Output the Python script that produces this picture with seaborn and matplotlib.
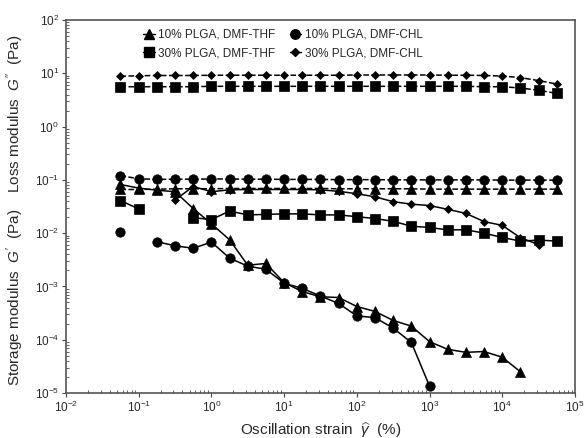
import numpy as np
import pandas as pd
import matplotlib
matplotlib.use("Agg")
import matplotlib.pyplot as plt
from matplotlib.lines import Line2D
from matplotlib.ticker import LogLocator, NullFormatter, FixedLocator
import seaborn as sns

# Oscillation strain sweep (%)
strain = [0.056, 0.1, 0.178, 0.316, 0.562, 1.0, 1.78, 3.16, 5.62, 10, 17.8, 31.6,
          56.2, 100, 178, 316, 562, 1000, 1780, 3160, 5620, 10000, 17800, 31600, 56200]
nan = np.nan

# Loss modulus G'' (Pa)
loss_10_thf = [0.066, 0.066, 0.067, 0.068, 0.068, 0.068, 0.069, 0.069, 0.069, 0.069, 0.069, 0.069,
               0.068, 0.068, 0.068, 0.068, 0.068, 0.067, 0.067, 0.067, 0.067, 0.067, 0.067, 0.067, 0.067]
loss_10_chl = [0.120, 0.105, 0.102, 0.103, 0.103, 0.104, 0.104, 0.103, 0.103, 0.102, 0.102, 0.102,
               0.101, 0.101, 0.101, 0.100, 0.100, 0.100, 0.100, 0.100, 0.100, 0.099, 0.099, 0.099, 0.099]
loss_30_thf = [5.6, 5.6, 5.6, 5.6, 5.6, 5.7, 5.7, 5.7, 5.7, 5.7, 5.7, 5.7,
               5.7, 5.7, 5.7, 5.7, 5.7, 5.7, 5.7, 5.7, 5.6, 5.6, 5.3, 4.8, 4.2]
loss_30_chl = [8.8, 9.0, 9.1, 9.1, 9.1, 9.2, 9.2, 9.2, 9.2, 9.2, 9.2, 9.2,
               9.2, 9.3, 9.3, 9.3, 9.3, 9.3, 9.2, 9.2, 9.1, 8.9, 8.3, 7.3, 6.3]

# Storage modulus G' (Pa)
stor_10_thf = [0.082, 0.070, 0.064, 0.060, 0.029, 0.015, 0.0075, 0.0025, 0.0027, 0.00118, 0.00080, 0.00064,
               0.00062, 0.00042, 0.00034, 0.00023, 0.00018, 9.2e-5, 6.6e-5, 5.8e-5, 6.0e-5, 4.7e-5, 2.5e-5, nan, nan]
stor_10_chl = [0.0105, nan, 0.0069, 0.0058, 0.0052, 0.0068, 0.0034, 0.0024, 0.0021, 0.00115, 0.00092, 0.00066,
               0.00048, 0.00028, 0.00026, 0.000165, 8.9e-5, 1.35e-5, nan, nan, nan, nan, nan, nan, nan]
stor_30_thf = [0.041, 0.0285, nan, nan, 0.0195, 0.018, 0.026, 0.022, 0.0225, 0.023, 0.023, 0.022,
               0.022, 0.0204, 0.0188, 0.0167, 0.0135, 0.0128, 0.0115, 0.0116, 0.0100, 0.0083, 0.0071, 0.0074, 0.0071]
stor_30_chl = [nan, nan, nan, 0.042, 0.075, 0.060, 0.065, 0.066, 0.066, 0.066, 0.066, 0.065,
               0.061, 0.055, 0.048, 0.039, 0.035, 0.033, 0.028, 0.0235, 0.0165, 0.014, 0.0082, 0.0061, nan]

# Decade ticks
x_ticks = [1e-2, 1e-1, 1e0, 1e1, 1e2, 1e3, 1e4, 1e5]
y_ticks = [1e-5, 1e-4, 1e-3, 1e-2, 1e-1, 1e0, 1e1, 1e2]

labels = ["10% PLGA, DMF-THF", "30% PLGA, DMF-THF", "10% PLGA, DMF-CHL", "30% PLGA, DMF-CHL"]
markers = {"10% PLGA, DMF-THF": "^", "30% PLGA, DMF-THF": "s",
           "10% PLGA, DMF-CHL": "o", "30% PLGA, DMF-CHL": "D"}
msizes = {"^": 7, "s": 6.5, "o": 6.8, "D": 4.2}

sns.set_theme(style="ticks")
plt.rcParams["font.family"] = ["Liberation Sans", "DejaVu Sans"]
plt.rcParams["mathtext.fontset"] = "custom"
plt.rcParams["mathtext.rm"] = "Liberation Sans"
plt.rcParams["mathtext.it"] = "Liberation Sans:italic"
plt.rcParams["mathtext.bf"] = "Liberation Sans:bold"

fig = plt.figure(figsize=(5.85, 4.38), dpi=100)
ax = fig.add_axes([0.1128, 0.1027, 0.870, 0.8516])

series = [
    (labels[0], loss_10_thf, "--"), (labels[2], loss_10_chl, "--"),
    (labels[1], loss_30_thf, "--"), (labels[3], loss_30_chl, "--"),
    (labels[0], stor_10_thf, "-"), (labels[2], stor_10_chl, "-"),
    (labels[1], stor_30_thf, "-"), (labels[3], stor_30_chl, "-"),
]

for name, vals, ls in series:
    df = pd.DataFrame({"strain": strain, "G": vals})
    # break the curve wherever a point is missing
    df["seg"] = df["G"].isna().cumsum()
    df = df.dropna()
    m = markers[name]
    for _, part in df.groupby("seg"):
        kw = dict(linestyle=ls, linewidth=1.1)
        if ls == "--":
            kw["dashes"] = (3, 2)
        sns.lineplot(data=part, x="strain", y="G", ax=ax, color="black",
                     marker=m, markersize=msizes[m], markeredgecolor="black",
                     markeredgewidth=0.5, estimator=None, sort=False,
                     legend=False, **kw)

ax.set_xscale("log")
ax.set_yscale("log")
ax.set_xlim(1e-2, 1e5)
ax.set_ylim(1e-5, 1e2)

ax.xaxis.set_major_locator(FixedLocator(x_ticks))
ax.yaxis.set_major_locator(FixedLocator(y_ticks))
ax.xaxis.set_minor_locator(LogLocator(base=10, subs=np.arange(2, 10), numticks=20))
ax.yaxis.set_minor_locator(LogLocator(base=10, subs=np.arange(2, 10), numticks=20))
ax.xaxis.set_minor_formatter(NullFormatter())
ax.yaxis.set_minor_formatter(NullFormatter())

ax.tick_params(which="major", direction="out", length=3, width=0.8,
               labelsize=8.5, color="#444444", pad=2)
ax.tick_params(which="minor", direction="in", length=2.5, width=0.6, color="#444444")
for s in ax.spines.values():
    s.set_color("#555555")
    s.set_linewidth(1.2)

ax.set_xlabel(r"Oscillation strain  $\widehat{\gamma}$  (%)", fontsize=11)
ax.set_ylabel(r"Storage modulus  $G'$  (Pa)    Loss modulus  $G''$  (Pa)", fontsize=11)
ax.xaxis.set_label_coords(0.5, -0.072)
ax.yaxis.set_label_coords(-0.078, 0.49)

handles = [Line2D([], [], color="black", marker=markers[n], markersize=msizes[markers[n]],
                  linewidth=1.0, linestyle="-") for n in labels]
ax.legend(handles, labels, ncol=2, loc="upper left", bbox_to_anchor=(0.13, 1.005),
          frameon=False, fontsize=8.5, handlelength=1.0, handletextpad=0.3,
          columnspacing=1.2, labelspacing=0.55, borderpad=0.4)

fig.savefig("out.png", dpi=100)
